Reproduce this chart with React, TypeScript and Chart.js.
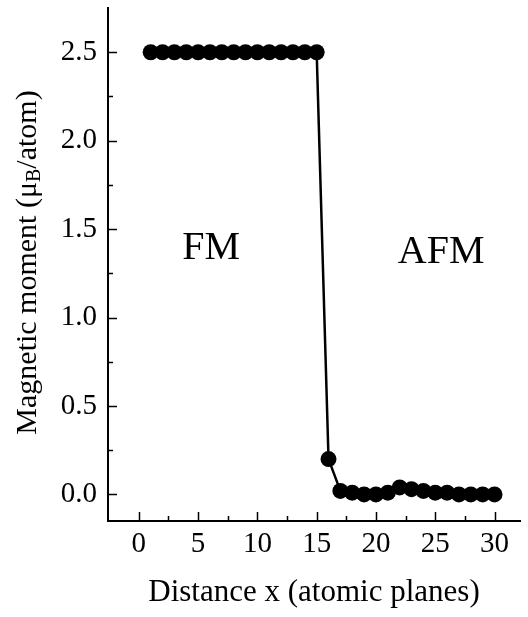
import React, { useEffect, useRef } from "react";
import { Chart, registerables } from "chart.js";

Chart.register(...registerables);

// ---- Data ----
const distances = [1, 2, 3, 4, 5, 6, 7, 8, 9, 10, 11, 12, 13, 14, 15, 16, 17, 18, 19, 20, 21, 22, 23, 24, 25, 26, 27, 28, 29, 30];
const moments = [2.5, 2.5, 2.5, 2.5, 2.5, 2.5, 2.5, 2.5, 2.5, 2.5, 2.5, 2.5, 2.5, 2.5, 2.5, 0.2, 0.02, 0.01, 0.0, 0.0, 0.01, 0.04, 0.03, 0.02, 0.01, 0.01, 0.0, 0.0, 0.0, 0.0];
const xTickValues = [0, 5, 10, 15, 20, 25, 30];
const yTickValues = [0, 0.5, 1.0, 1.5, 2.0, 2.5];
const xMinorTicks = [2.5, 7.5, 12.5, 17.5, 22.5, 27.5];
const yMinorTicks = [0.25, 0.75, 1.25, 1.75, 2.25];
const regionLabels = ["FM", "AFM"];
const regionLabelX = [6.1, 25.5];
const regionLabelY = [1.39, 1.37];
const xTitle = "Distance x (atomic planes)";
const yTitleParts = ["Magnetic moment (\u03bc", "B", "/atom)"];

const FONT = "'Liberation Serif', 'Times New Roman', Times, serif";

const zeroPadding = (s: any) => {
  s.paddingTop = 0;
  s.paddingBottom = 0;
  s.paddingLeft = 0;
  s.paddingRight = 0;
};

const decorPlugin = {
  id: "decor",
  afterDraw(chart: any) {
    const ctx = chart.ctx as CanvasRenderingContext2D;
    const xs = chart.scales.x;
    const ys = chart.scales.y;
    const area = chart.chartArea;
    ctx.save();
    ctx.strokeStyle = "#000";
    ctx.lineWidth = 1.5;
    ctx.beginPath();
    for (const v of xTickValues) {
      const px = Math.round(xs.getPixelForValue(v)) + 0.5;
      ctx.moveTo(px, area.bottom);
      ctx.lineTo(px, area.bottom - 9);
    }
    for (const v of xMinorTicks) {
      const px = Math.round(xs.getPixelForValue(v)) + 0.5;
      ctx.moveTo(px, area.bottom);
      ctx.lineTo(px, area.bottom - 5);
    }
    for (const v of yTickValues) {
      const py = Math.round(ys.getPixelForValue(v)) + 0.5;
      ctx.moveTo(area.left, py);
      ctx.lineTo(area.left + 9, py);
    }
    for (const v of yMinorTicks) {
      const py = Math.round(ys.getPixelForValue(v)) + 0.5;
      ctx.moveTo(area.left, py);
      ctx.lineTo(area.left + 5, py);
    }
    ctx.stroke();

    ctx.fillStyle = "#000";
    // region labels
    ctx.font = `40px ${FONT}`;
    ctx.textAlign = "center";
    ctx.textBaseline = "middle";
    regionLabels.forEach((t, i) => {
      ctx.fillText(t, xs.getPixelForValue(regionLabelX[i]), ys.getPixelForValue(regionLabelY[i]));
    });

    // x title
    ctx.font = `31px ${FONT}`;
    ctx.textAlign = "center";
    ctx.textBaseline = "middle";
    ctx.fillText(xTitle, (area.left + area.right) / 2, 593);

    // y title with subscript
    ctx.save();
    ctx.translate(28, (area.top + area.bottom) / 2 - 2);
    ctx.rotate(-Math.PI / 2);
    ctx.textAlign = "left";
    ctx.textBaseline = "middle";
    const mainFont = `30px ${FONT}`;
    const subFont = `20px ${FONT}`;
    ctx.font = mainFont;
    const w0 = ctx.measureText(yTitleParts[0]).width;
    const w2 = ctx.measureText(yTitleParts[2]).width;
    ctx.font = subFont;
    const w1 = ctx.measureText(yTitleParts[1]).width;
    let x0 = -(w0 + w1 + w2) / 2;
    ctx.font = mainFont;
    ctx.fillText(yTitleParts[0], x0, 0);
    x0 += w0;
    ctx.font = subFont;
    ctx.fillText(yTitleParts[1], x0, 7);
    x0 += w1;
    ctx.font = mainFont;
    ctx.fillText(yTitleParts[2], x0, 0);
    ctx.restore();

    ctx.restore();
  },
};

export default function App() {
  const canvasRef = useRef<HTMLCanvasElement | null>(null);

  useEffect(() => {
    document.body.style.margin = "0";
    const canvas = canvasRef.current;
    if (!canvas) return;
    const chart = new Chart(canvas, {
      type: "line",
      data: {
        datasets: [
          {
            data: distances.map((d, i) => ({ x: d, y: moments[i] })),
            borderColor: "#000",
            backgroundColor: "#000",
            borderWidth: 2.5,
            pointRadius: 8,
            pointBackgroundColor: "#000",
            pointBorderColor: "#000",
            pointBorderWidth: 0,
            tension: 0,
            fill: false,
          },
        ],
      },
      options: {
        responsive: false,
        animation: false,
        devicePixelRatio: 1,
        layout: { padding: { top: 8, right: 1, left: 0, bottom: 0 } },
        plugins: {
          legend: { display: false },
          tooltip: { enabled: false },
          title: { display: false },
        },
        scales: {
          x: {
            type: "linear",
            min: -2.6,
            max: 32.15,
            afterFit: (s: any) => {
              s.height = 96;
              zeroPadding(s);
            },
            afterBuildTicks: (s: any) => {
              s.ticks = xTickValues.map((v) => ({ value: v }));
            },
            grid: { display: false, drawTicks: false },
            border: { display: true, color: "#000", width: 2 },
            ticks: {
              color: "#000",
              font: { family: FONT, size: 29 },
              padding: 6,
              maxRotation: 0,
              autoSkip: false,
              callback: (v: any) => String(v),
            },
          },
          y: {
            type: "linear",
            min: -0.15,
            max: 2.75,
            afterFit: (s: any) => {
              s.width = 108;
              zeroPadding(s);
            },
            afterBuildTicks: (s: any) => {
              s.ticks = yTickValues.map((v) => ({ value: v }));
            },
            grid: { display: false, drawTicks: false },
            border: { display: true, color: "#000", width: 2 },
            ticks: {
              color: "#000",
              font: { family: FONT, size: 29 },
              padding: 11,
              autoSkip: false,
              callback: (v: any) => Number(v).toFixed(1),
            },
          },
        },
      },
      plugins: [decorPlugin],
    });
    return () => chart.destroy();
  }, []);

  return (
    <div style={{ position: "absolute", left: 0, top: 0, width: 528, height: 617 }}>
      <canvas ref={canvasRef} width={528} height={617} style={{ width: 528, height: 617 }} />
    </div>
  );
}
